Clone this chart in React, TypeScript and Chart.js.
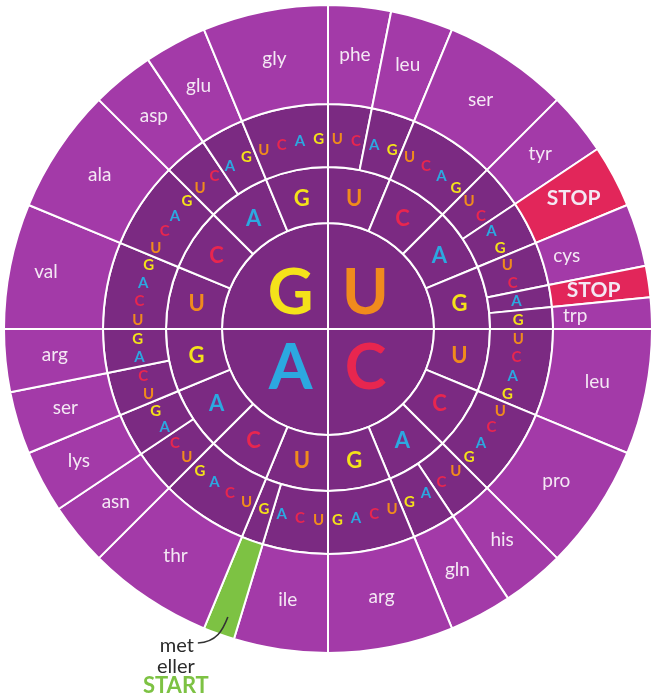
import React, { useEffect, useRef } from 'react';
import { Chart, registerables } from 'chart.js';

Chart.register(...registerables);

// ---- data ----
const firstBases = ['U', 'C', 'A', 'G'];
const firstBaseCodons = [16, 16, 16, 16];

const secondBases = ['U', 'C', 'A', 'G', 'U', 'C', 'A', 'G', 'U', 'C', 'A', 'G', 'U', 'C', 'A', 'G'];
const secondBaseCodons = [4, 4, 4, 4, 4, 4, 4, 4, 4, 4, 4, 4, 4, 4, 4, 4];

const aminoAcids = [
  'phe', 'leu', 'ser', 'tyr', 'STOP', 'cys', 'STOP', 'trp',
  'leu', 'pro', 'his', 'gln', 'arg',
  'ile', 'met', 'thr', 'asn', 'lys', 'ser', 'arg',
  'val', 'ala', 'asp', 'glu', 'gly',
];
const thirdBases = [
  'UC', 'AG', 'UCAG', 'UC', 'AG', 'UC', 'A', 'G',
  'UCAG', 'UCAG', 'UC', 'AG', 'UCAG',
  'UCA', 'G', 'UCAG', 'UC', 'AG', 'UC', 'AG',
  'UCAG', 'UCAG', 'UC', 'AG', 'UCAG',
];
const aminoCodons = thirdBases.map((s) => s.length);

// ---- styles ----
const OUTER_PURPLE = '#A33AA8';
const INNER_PURPLE = '#7B2A82';
const STOP_RED = '#E2265A';
const START_GREEN = '#7DC243';
const baseColors: Record<string, string> = {
  U: '#F08B1D',
  C: '#E8264F',
  A: '#2CA8E0',
  G: '#F4E21A',
};
const FONT = 'Lato, "Open Sans", sans-serif';
const labelShift: Record<number, number> = { 4: 4, 5: -25, 6: -6, 7: -27, 17: 8, 20: 13 };

const outerColors = aminoAcids.map((a) =>
  a === 'STOP' ? STOP_RED : a === 'met' ? START_GREEN : OUTER_PURPLE
);

function midPoint(arc: any, rOffset = 0, frac = 0.5) {
  const p = arc.getProps(['x', 'y', 'startAngle', 'endAngle', 'innerRadius', 'outerRadius'], true);
  const a = p.startAngle + (p.endAngle - p.startAngle) * frac;
  const r = (p.innerRadius + p.outerRadius) / 2 + rOffset;
  return { x: p.x + r * Math.cos(a), y: p.y + r * Math.sin(a), p };
}

const labelPlugin = {
  id: 'codonLabels',
  afterDatasetsDraw(chart: any) {
    const ctx: CanvasRenderingContext2D = chart.ctx;
    ctx.save();
    ctx.textAlign = 'center';
    ctx.textBaseline = 'alphabetic';

    // outer ring: amino acids
    const outer = chart.getDatasetMeta(0).data;
    outer.forEach((arc: any, i: number) => {
      const name = aminoAcids[i];
      if (name === 'met') return;
      const stop = name === 'STOP';
      const { x, y } = midPoint(arc, labelShift[i] || 0);
      ctx.fillStyle = '#F4E8F4';
      if (stop) {
        ctx.font = `bold 21px ${FONT}`;
        ctx.fillText(name, x, y + 7.5);
      } else {
        ctx.font = `19px ${FONT}`;
        ctx.fillText(name, x, y + 5);
      }
    });

    // third base ring
    const ring3 = chart.getDatasetMeta(1).data;
    ctx.font = `bold 15px ${FONT}`;
    ring3.forEach((arc: any, i: number) => {
      const letters = thirdBases[i];
      for (let t = 0; t < letters.length; t++) {
        const { x, y } = midPoint(arc, -3, (t + 0.5) / letters.length);
        ctx.fillStyle = baseColors[letters[t]];
        ctx.fillText(letters[t], x, y + 5.4);
      }
    });

    // second base ring
    const ring2 = chart.getDatasetMeta(2).data;
    ctx.font = `bold 22px ${FONT}`;
    ring2.forEach((arc: any, i: number) => {
      const { x, y } = midPoint(arc, 0);
      ctx.fillStyle = baseColors[secondBases[i]];
      ctx.fillText(secondBases[i], x, y + 8);
    });

    // first base (centre)
    const ring1 = chart.getDatasetMeta(3).data;
    ctx.font = `bold 63px ${FONT}`;
    ring1.forEach((arc: any, i: number) => {
      const { x, y } = midPoint(arc, 0);
      ctx.fillStyle = baseColors[firstBases[i]];
      ctx.fillText(firstBases[i], x, y + 22.5);
    });

    // start annotation
    const metIdx = aminoAcids.indexOf('met');
    const metArc = outer[metIdx];
    const mp = metArc.getProps(['x', 'y', 'startAngle', 'endAngle', 'outerRadius'], true);
    const ma = (mp.startAngle + mp.endAngle) / 2;
    const ox = mp.x + mp.outerRadius * Math.cos(ma);
    const oy = mp.y + mp.outerRadius * Math.sin(ma);
    ctx.strokeStyle = '#333';
    ctx.lineWidth = 1.6;
    ctx.beginPath();
    ctx.moveTo(ox + 9, oy - 17);
    ctx.bezierCurveTo(ox + 4, oy - 4, ox - 2, oy + 8, ox - 21, oy + 9);
    ctx.stroke();
    ctx.fillStyle = '#2b2b2b';
    ctx.font = `20px ${FONT}`;
    ctx.fillText('met', ox - 42, oy + 18);
    ctx.fillText('eller', ox - 43, oy + 39);
    ctx.fillStyle = START_GREEN;
    ctx.font = `bold 22px ${FONT}`;
    ctx.fillText('START', ox - 43, oy + 59);

    ctx.restore();
  },
};

export default function App() {
  const ref = useRef<HTMLCanvasElement>(null);

  useEffect(() => {
    if (!ref.current) return;
    const chart = new Chart(ref.current, {
      type: 'doughnut',
      data: {
        labels: aminoAcids,
        datasets: [
          {
            data: aminoCodons,
            backgroundColor: outerColors,
            borderColor: '#ffffff',
            borderWidth: 2,
            weight: 99,
          },
          {
            data: aminoCodons,
            backgroundColor: INNER_PURPLE,
            borderColor: '#ffffff',
            borderWidth: 2,
            weight: 63,
          },
          {
            data: secondBaseCodons,
            backgroundColor: INNER_PURPLE,
            borderColor: '#ffffff',
            borderWidth: 2,
            weight: 56,
          },
          {
            data: firstBaseCodons,
            backgroundColor: INNER_PURPLE,
            borderColor: '#ffffff',
            borderWidth: 2,
            weight: 106,
          },
        ] as any,
      },
      options: {
        responsive: false,
        animation: false,
        events: [],
        cutout: 0,
        layout: { padding: { left: 3, right: 3, top: 4, bottom: 41 } },
        plugins: {
          legend: { display: false },
          tooltip: { enabled: false },
        },
      } as any,
      plugins: [labelPlugin],
    });
    return () => chart.destroy();
  }, []);

  return (
    <div
      style={{
        position: 'absolute',
        left: 0,
        top: 0,
        width: 651,
        height: 695,
        overflow: 'hidden',
        background: '#ffffff',
      }}
    >
      <canvas ref={ref} width={656} height={695} style={{ display: 'block' }} />
    </div>
  );
}
